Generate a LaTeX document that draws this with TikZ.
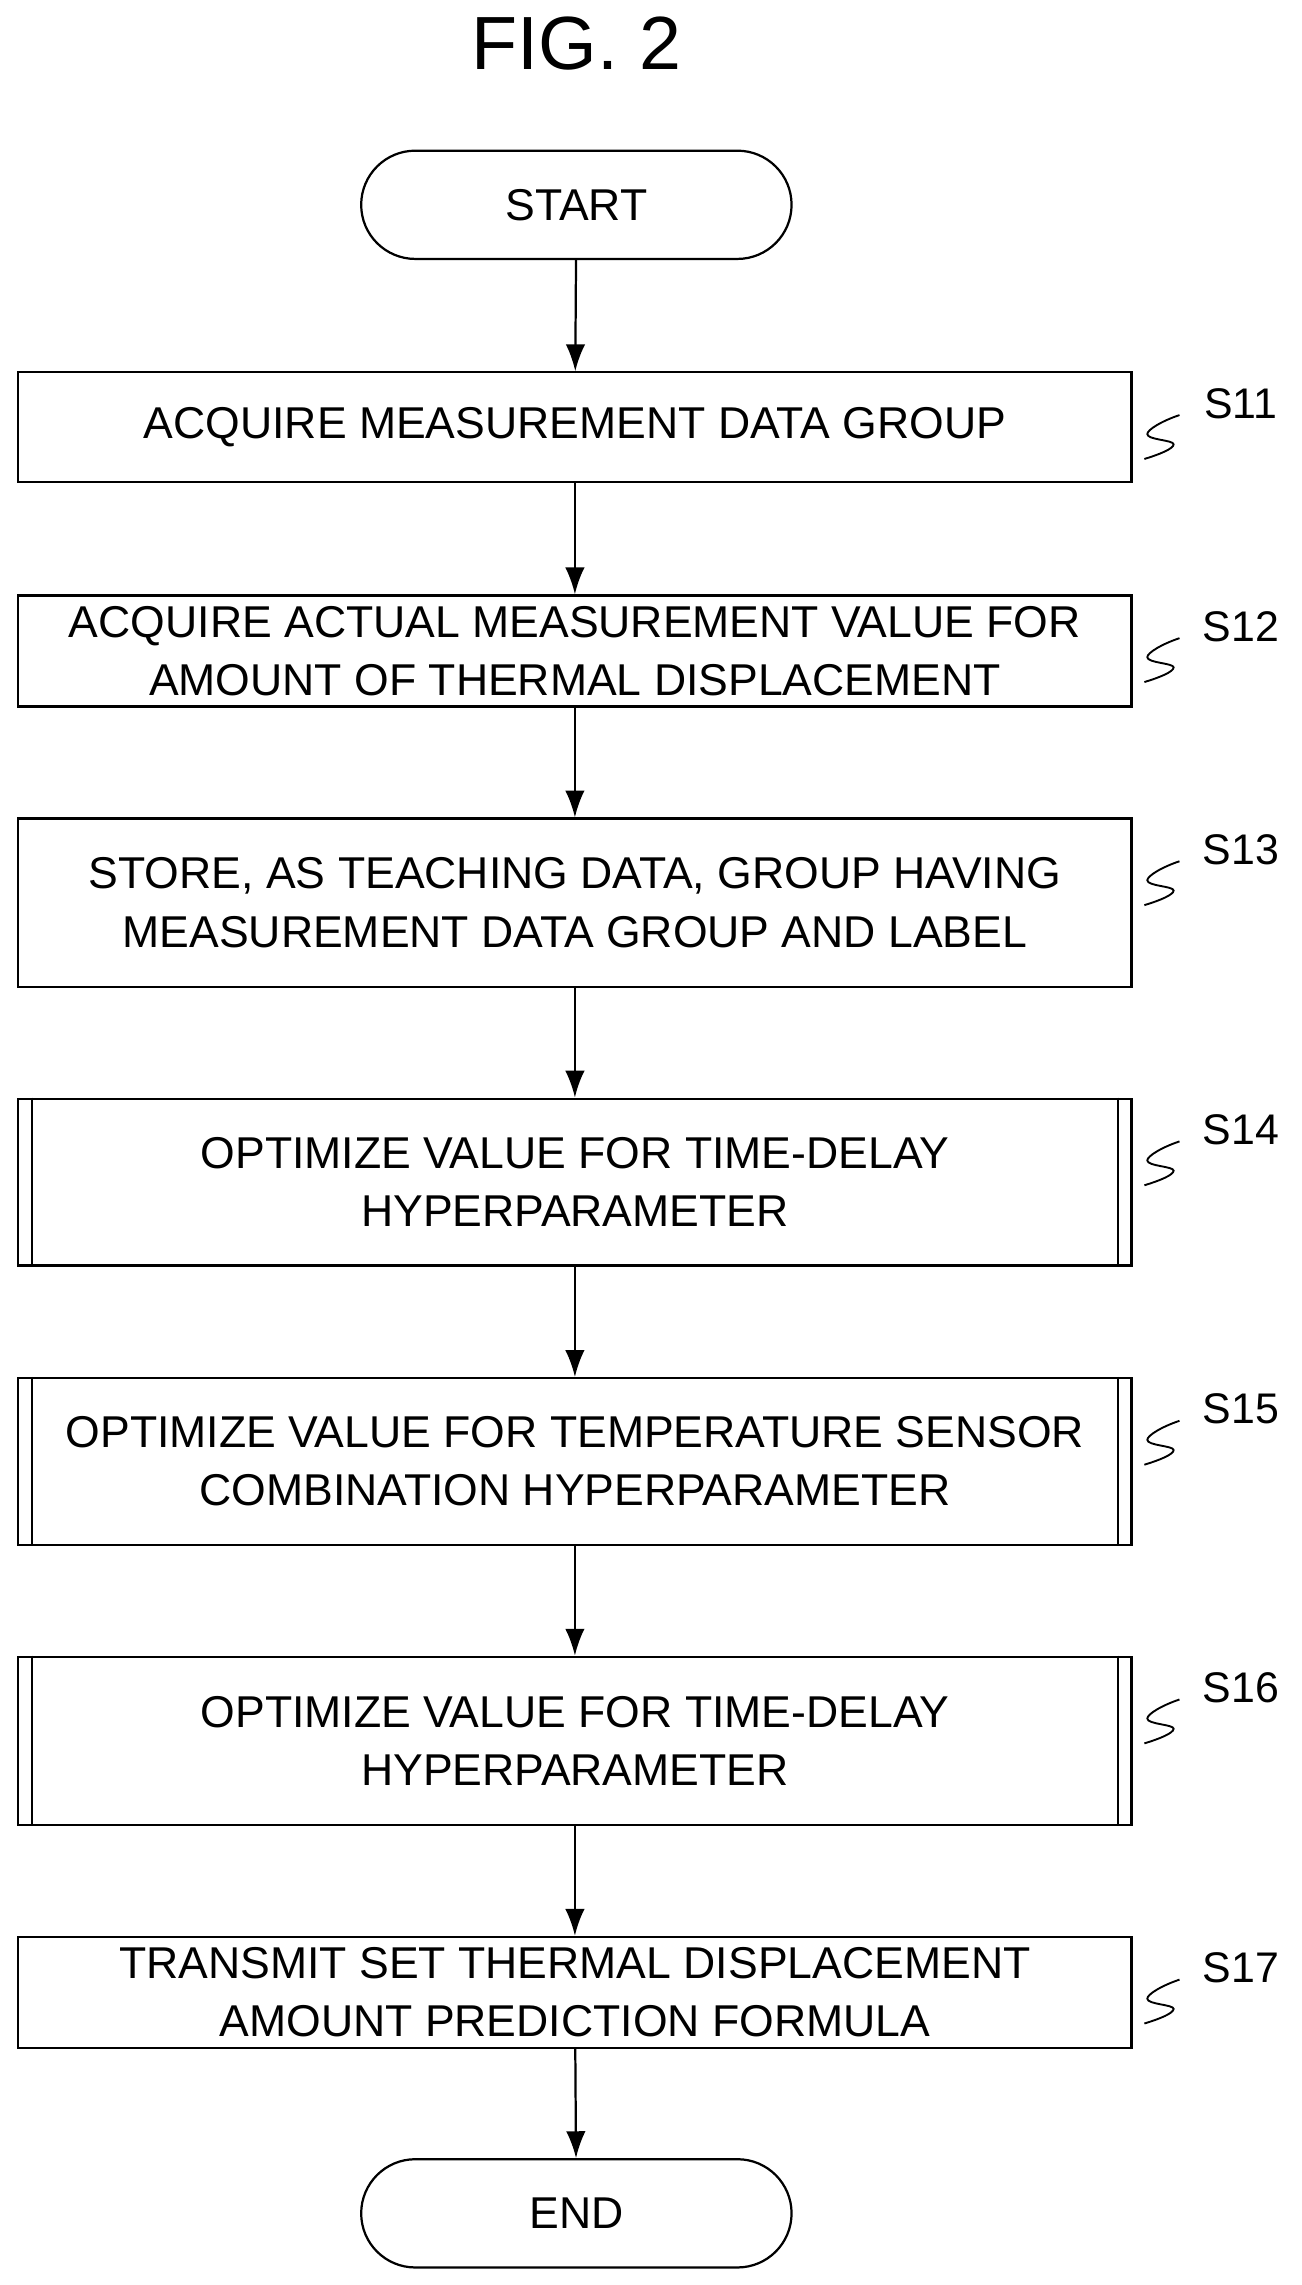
\documentclass[tikz,border=0pt]{standalone}
\usepackage{fontspec}
\setmainfont{Liberation Sans}
\usetikzlibrary{arrows.meta}
\usetikzlibrary{shapes}
\usetikzlibrary{positioning}
\usetikzlibrary{calc}
\tikzset{
  >={Latex[length=0.55cm,width=0.4cm]},
  line/.style={draw, ->, line width=1.3pt},
  proc/.style={draw, rectangle, line width=1.3pt, minimum width=22.83cm, align=center,
    font=\fontsize{26}{34}\selectfont},
  term/.style={draw, rounded rectangle, line width=1.3pt, minimum width=9.06cm, minimum height=2.22cm,
    font=\fontsize{26}{34}\selectfont},
  tag/.style={font=\fontsize{25}{30}\selectfont},
  squig/.style={line width=1.1pt}
}
\newcommand{\subbox}[1]{%
  \draw[line width=1.3pt] ($(#1.north west)+(10,0)$) -- ($(#1.south west)+(10,0)$);
  \draw[line width=1.3pt] ($(#1.north east)+(-10,0)$) -- ($(#1.south east)+(-10,0)$);}
\newcommand{\steptag}[2]{%
  \node[tag] (t#1) at ($(#2.north east)+(74,22)$) {S1#1};
  \draw[squig] ($(#2.north east)+(32,30)$) .. controls ($(#2.north east)+(20,34)$) and ($(#2.north east)+(10,40)$) .. ($(#2.north east)+(10,43)$)
    .. controls ($(#2.north east)+(10,47)$) and ($(#2.north east)+(28,47)$) .. ($(#2.north east)+(28,50)$)
    .. controls ($(#2.north east)+(28,53)$) and ($(#2.north east)+(18,57)$) .. ($(#2.north east)+(8,60)$);}
\begin{document}
\begin{tikzpicture}[x=0.03cm, y=-0.03cm]
  \useasboundingbox (0,0) rectangle (890,1562);
  % title
  \node[font=\fontsize{44}{50}\selectfont] (title) at (394,30) {FIG. 2};
  % flow
  \node[term] (start) at (394,140) {START};
  \node[proc, minimum height=2.25cm] (s1) at (393,292) {ACQUIRE MEASUREMENT DATA GROUP};
  \node[proc, minimum height=2.28cm] (s2) at (393,445) {ACQUIRE ACTUAL MEASUREMENT VALUE FOR\\AMOUNT OF THERMAL DISPLACEMENT};
  \node[proc, minimum height=3.45cm] (s3) at (393,617) {STORE, AS TEACHING DATA, GROUP HAVING\\MEASUREMENT DATA GROUP AND LABEL};
  \node[proc, minimum height=3.42cm] (s4) at (393,808) {OPTIMIZE VALUE FOR TIME-DELAY\\HYPERPARAMETER};
  \node[proc, minimum height=3.42cm] (s5) at (393,999) {OPTIMIZE VALUE FOR TEMPERATURE SENSOR\\COMBINATION HYPERPARAMETER};
  \node[proc, minimum height=3.45cm] (s6) at (393,1190) {OPTIMIZE VALUE FOR TIME-DELAY\\HYPERPARAMETER};
  \node[proc, minimum height=2.28cm] (s7) at (393,1362) {TRANSMIT SET THERMAL DISPLACEMENT\\AMOUNT PREDICTION FORMULA};
  \node[term] (end) at (394,1513) {END};
  \subbox{s4}
  \subbox{s5}
  \subbox{s6}
  % tags
  \steptag{1}{s1}
  \steptag{2}{s2}
  \steptag{3}{s3}
  \steptag{4}{s4}
  \steptag{5}{s5}
  \steptag{6}{s6}
  \steptag{7}{s7}
  % arrows
  \path[line] (start) -- (s1);
  \path[line] (s1) -- (s2);
  \path[line] (s2) -- (s3);
  \path[line] (s3) -- (s4);
  \path[line] (s4) -- (s5);
  \path[line] (s5) -- (s6);
  \path[line] (s6) -- (s7);
  \path[line] (s7) -- (end);
\end{tikzpicture}
\end{document}
